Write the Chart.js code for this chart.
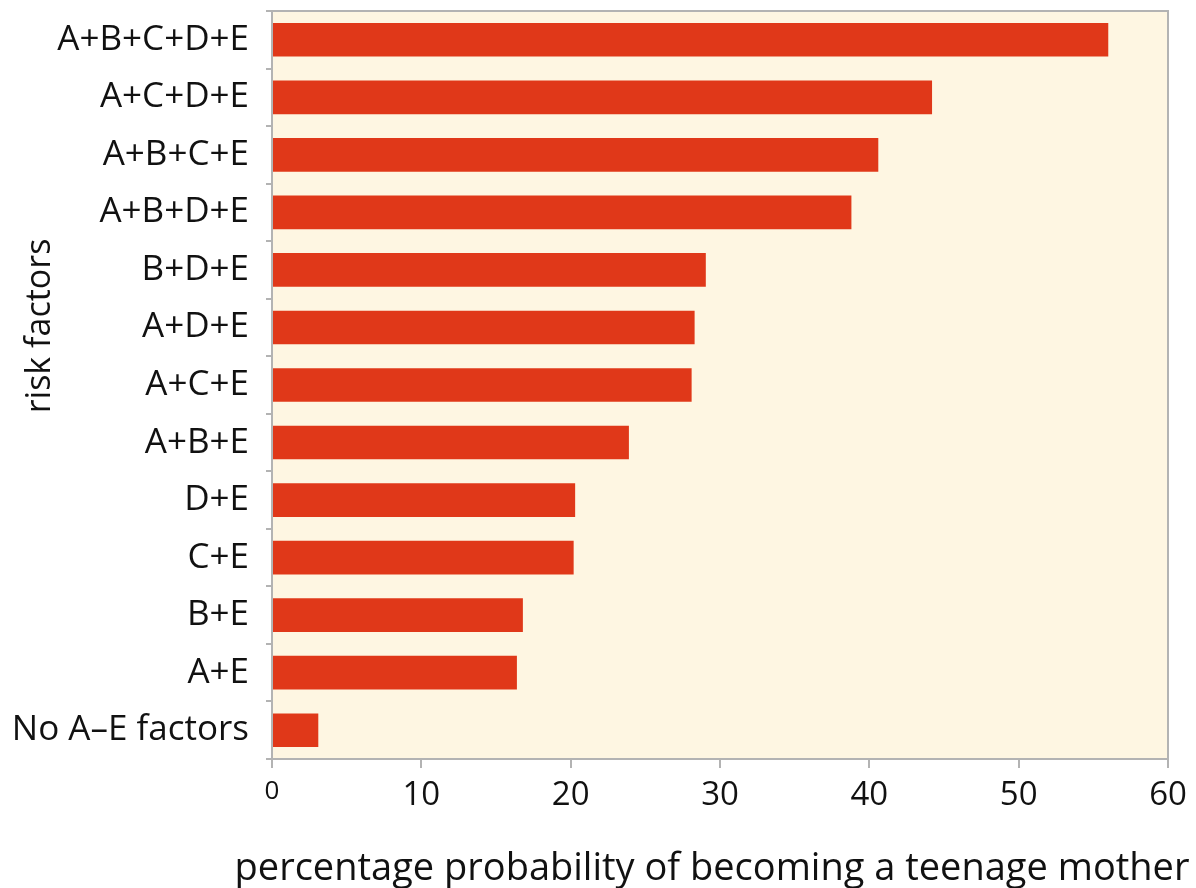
<!DOCTYPE html>
<html>
<head>
<meta charset="utf-8">
<script src="https://cdn.jsdelivr.net/npm/chart.js@4"></script>
<style>
  body { margin: 0; background: #fff; }
</style>
</head>
<body>
<canvas id="riskChart" width="1196" height="888"></canvas>
<script>
const factorLabels = ["A+B+C+D+E", "A+C+D+E", "A+B+C+E", "A+B+D+E", "B+D+E", "A+D+E",
  "A+C+E", "A+B+E", "D+E", "C+E", "B+E", "A+E", "No A\u2013E factors"];
const probabilityValues = [56.0, 44.2, 40.6, 38.8, 29.05, 28.3, 28.1, 23.9, 20.3, 20.2, 16.8, 16.4, 3.1];
const xTicks = [0, 10, 20, 30, 40, 50, 60];
const xTitle = "percentage probability of becoming a teenage mother";
const yTitle = "risk factors";

const FONT = "'Open Sans', 'DejaVu Sans', sans-serif";
const AXIS_GREY = "#b3b3b3";
const TEXT = "#111";

/* ================= PLOT FRAME + AXIS TITLES ================= */
// titles are drawn here: chart.js squeezes a scale title to the plot width,
// and the original one is wider than the plot and off-centre
const plotFrame = {
  id: "plotFrame",
  beforeDraw(chart) {
    const { ctx, chartArea: a } = chart;
    ctx.save();
    ctx.fillStyle = "#fef6e2";
    ctx.fillRect(a.left, a.top, a.right - a.left, a.bottom - a.top);
    ctx.restore();
  },
  afterDatasetsDraw(chart) {
    const { ctx, chartArea: a } = chart;
    ctx.save();
    ctx.strokeStyle = AXIS_GREY;
    ctx.lineWidth = 2;
    ctx.beginPath();
    ctx.moveTo(a.left, a.top);
    ctx.lineTo(a.right, a.top);
    ctx.lineTo(a.right, a.bottom);
    ctx.stroke();

    ctx.fillStyle = TEXT;
    ctx.textAlign = "center";

    ctx.font = "38px " + FONT;
    ctx.textBaseline = "alphabetic";
    ctx.fillText(xTitle, 712, 880);

    ctx.translate(40, 326);
    ctx.rotate(-Math.PI / 2);
    ctx.font = "34px " + FONT;
    ctx.textBaseline = "middle";
    ctx.fillText(yTitle, 0, 0);
    ctx.restore();
  }
};

new Chart(document.getElementById("riskChart"), {
  type: "bar",
  data: {
    labels: factorLabels,
    datasets: [{
      data: probabilityValues,
      backgroundColor: "#e03819",
      borderWidth: 0,
      categoryPercentage: 1,
      barPercentage: 0.585
    }]
  },
  options: {
    indexAxis: "y",
    responsive: false,
    animation: false,
    layout: { padding: { top: 11, right: 28, left: 0, bottom: 0 } },
    plugins: {
      legend: { display: false },
      tooltip: { enabled: false }
    },
    scales: {
      x: {
        min: 0,
        max: 60,
        afterBuildTicks: scale => { scale.ticks = xTicks.map(v => ({ value: v })); },
        afterFit: scale => {
          scale.height = 129;
          scale.paddingLeft = 0;
          scale.paddingRight = 0;
        },
        border: { color: AXIS_GREY, width: 2 },
        grid: {
          drawOnChartArea: false,
          drawTicks: true,
          tickLength: 9,
          color: AXIS_GREY,
          lineWidth: 2
        },
        ticks: {
          color: TEXT,
          padding: 8,
          font: ctx => ({ family: FONT, size: ctx.tick && ctx.tick.value === 0 ? 26 : 33 })
        }
      },
      y: {
        afterFit: scale => {
          scale.width = 272;
          scale.paddingTop = 0;
          scale.paddingBottom = 0;
        },
        border: { color: AXIS_GREY, width: 2 },
        grid: {
          offset: true,
          drawOnChartArea: false,
          drawTicks: true,
          tickLength: 6,
          color: AXIS_GREY,
          lineWidth: 2
        },
        ticks: {
          color: TEXT,
          padding: 17,
          font: { family: FONT, size: 35 }
        }
      }
    }
  },
  plugins: [plotFrame]
});
</script>
</body>
</html>
